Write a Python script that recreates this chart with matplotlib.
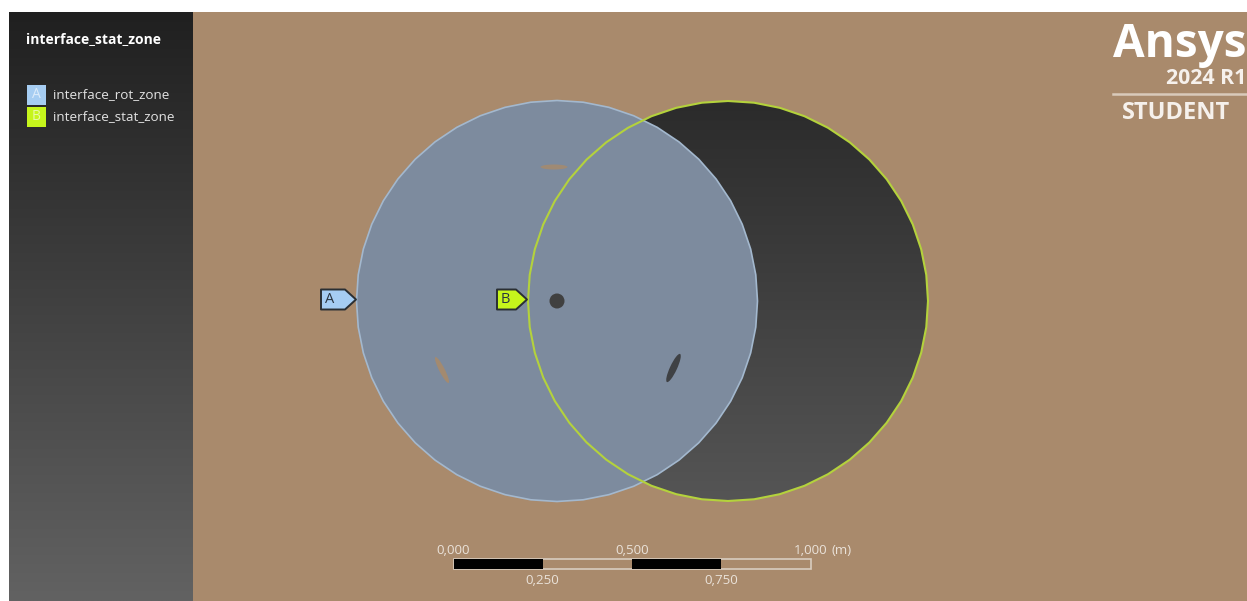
import numpy as np
import matplotlib
matplotlib.use("Agg")
import matplotlib.pyplot as plt
from matplotlib.patches import Polygon, Rectangle, Circle, Ellipse

W, H = 1247, 601
TAN = "#a98a6c"

title = "interface_stat_zone"
legend_names = ["interface_rot_zone", "interface_stat_zone"]
legend_letters = ["A", "B"]
legend_colors = ["#a6cdf2", "#c6f51c"]
scale_top = ["0,000", "0,500", "1,000"]
scale_bottom = ["0,250", "0,750"]
scale_unit = "(m)"
scale_edges = [0.0, 0.25, 0.5, 0.75, 1.0]

fig = plt.figure(figsize=(W / 100, H / 100), dpi=100, facecolor="white")
ax = fig.add_axes([0, 0, 1, 1])
ax.set_xlim(0, W)
ax.set_ylim(H, 0)
ax.axis("off")
plt.rcParams["font.family"] = ["Open Sans", "DejaVu Sans"]


def vgrad(extent, top, bottom, clip=None, z=1):
    cmap = matplotlib.colors.LinearSegmentedColormap.from_list("g", [top, bottom])
    im = ax.imshow(np.linspace(0, 1, 256)[:, None], cmap=cmap, extent=extent,
                   aspect="auto", zorder=z, interpolation="bilinear")
    if clip is not None:
        im.set_clip_path(clip)
    return im


def facet(cx, cy, r, n=48):
    t = np.linspace(0, 2 * np.pi, n, endpoint=False)
    return np.c_[cx + r * np.cos(t), cy + r * np.sin(t)]


# background and side panel
ax.add_patch(Rectangle((193, 12), W - 193, H - 12, fc=TAN, ec="none", zorder=0))
vgrad((9, 193, H, 12), "#202020", "#626262")
ax.set_xlim(0, W)
ax.set_ylim(H, 0)

# stationary (dark) disc
right = facet(728, 301, 200)
p_r = Polygon(right, closed=True, fc="none", ec="none", zorder=2)
ax.add_patch(p_r)
vgrad((528, 928, 501, 101), "#2b2b2b", "#555555", clip=p_r, z=2)
ax.set_xlim(0, W)
ax.set_ylim(H, 0)
ax.add_patch(Polygon(right, closed=True, fc="none", ec="#b4d23c", lw=1.5, zorder=5))

# rotating (blue) disc
left = facet(557, 301, 200.5)
ax.add_patch(Polygon(left, closed=True, fc="#7d8b9e", ec="#a3b8ce", lw=1.2, zorder=3))

# holes / blades
ax.add_patch(Circle((557, 301), 7.5, fc="#404040", ec="none", zorder=6))
ax.add_patch(Ellipse((554, 167), 27, 5, fc="#a38a70", ec="none", alpha=.9, zorder=4))
ax.add_patch(Ellipse((442, 370), 29, 5.5, angle=63, fc="#a38a70", ec="none", zorder=4))
ax.add_patch(Ellipse((673.5, 368), 31, 7, angle=-65, fc="#3f4144", ec="none", zorder=4))


def tag(x, y, letter, color, width):
    pts = [(x, y - 10), (x + width - 11, y - 10), (x + width, y),
           (x + width - 11, y + 10), (x, y + 10)]
    ax.add_patch(Polygon(pts, closed=True, fc=color, ec="#2a2f33", lw=1.4, zorder=7,
                         joinstyle="round"))
    ax.text(x + 8.5, y, letter, ha="center", va="center", fontsize=10.5,
            color="#2a3540", zorder=8)


tag(321, 299.5, legend_letters[0], legend_colors[0], 35)
tag(497, 299.5, legend_letters[1], legend_colors[1], 30)

# side panel texts
ax.text(26, 39, title, color="white", fontsize=10, fontweight="bold", va="center", zorder=8)
for y, letter, name, c in zip([94.5, 116.5], legend_letters, legend_names, legend_colors):
    ax.add_patch(Rectangle((27, y - 10), 19, 20, fc=c, ec="none", zorder=7))
    ax.text(36.5, y, letter, color="white", alpha=.6, ha="center", va="center",
            fontsize=10, zorder=8)
    ax.text(53, y, name, color="#e2e2e2", fontsize=9.7, va="center", zorder=8)

# logo
ax.text(1113, 44, "Ansys", color="white", fontsize=33, fontweight="bold", va="center",
        ha="left", zorder=8, clip_on=True)
ax.text(1246, 78, "2024 R1", color="#f6f1ec", fontsize=15.4, fontweight="bold", va="center",
        ha="right", zorder=8)
ax.plot([1113, 1247], [94, 94], color="#d9cabb", lw=1.8, zorder=8)
ax.text(1122, 113, "STUDENT", color="#f6f1ec", fontsize=17, fontweight="bold", va="center",
        ha="left", zorder=8)

# scale bar
x0, x1 = 453.5, 810.5
sx = lambda v: x0 + (x1 - x0) * v
ax.add_patch(Rectangle((x0, 558.5), x1 - x0, 10.5, fc="none", ec="#d9cdbf", lw=1.2, zorder=6))
for a, b in zip(scale_edges[0::2], scale_edges[1::2]):
    ax.add_patch(Rectangle((sx(a), 558.5), sx(b) - sx(a), 10, fc="black", ec="none", zorder=7))
for v, s in zip(scale_edges[0::2], scale_top):
    ax.text(sx(v), 550, s, color="#eae2d9", fontsize=9.6, ha="center", va="center", zorder=8)
for v, s in zip(scale_edges[1::2], scale_bottom):
    ax.text(sx(v), 581, s, color="#eae2d9", fontsize=9.6, ha="center", va="center", zorder=8)
ax.text(832, 550, scale_unit, color="#eae2d9", fontsize=9.6, ha="left", va="center", zorder=8)

fig.savefig("out.png", dpi=100, facecolor="white")
